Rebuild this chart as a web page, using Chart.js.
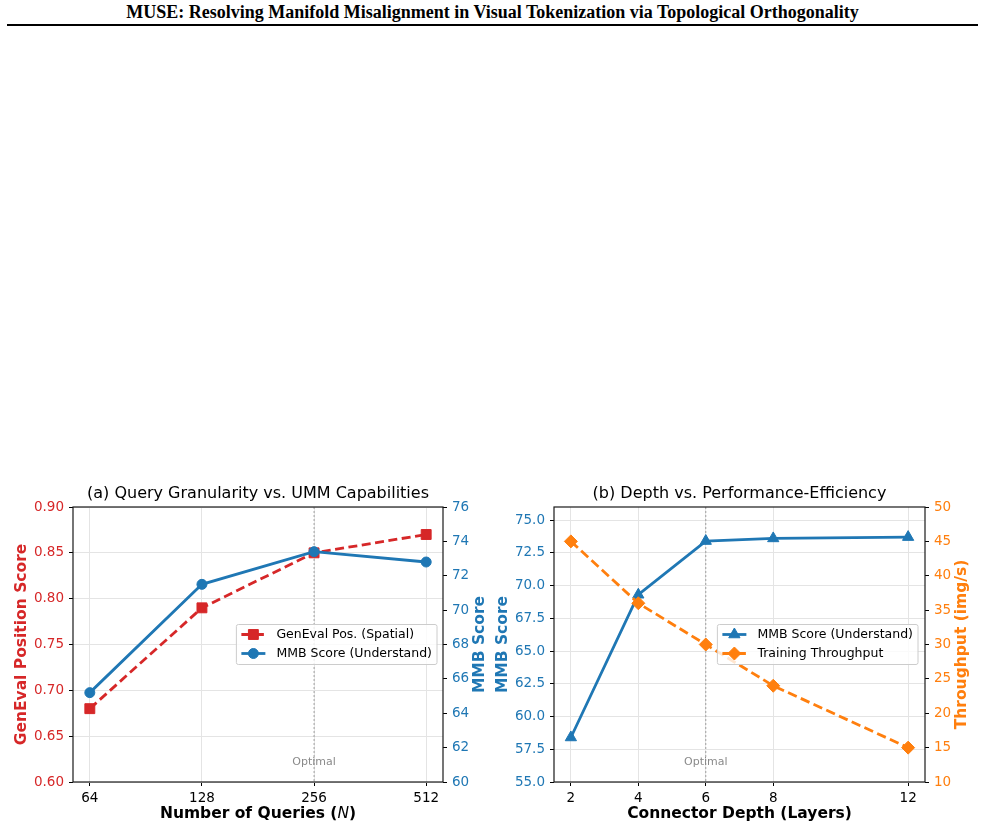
<!DOCTYPE html>
<html>
<head>
<meta charset="utf-8">
<script src="https://cdn.jsdelivr.net/npm/chart.js@4.4.1/dist/chart.umd.min.js"></script>
<style>
  body { margin: 0; width: 985px; height: 830px; background: #fff; position: relative; overflow: hidden; }
  #hdr { position: absolute; left: 0; top: 2px; width: 985px; text-align: center; line-height: 21px;
         font-family: "Liberation Serif", "Times New Roman", serif; font-weight: bold; font-size: 18px; color: #000; }
  #rule { position: absolute; left: 7px; top: 24px; width: 971px; height: 2px; background: #000; }
  .box { position: absolute; top: 478px; height: 352px; }
</style>
</head>
<body>
<div id="hdr">MUSE: Resolving Manifold Misalignment in Visual Tokenization via Topological Orthogonality</div>
<div id="rule"></div>
<div class="box" style="left:0;width:490px"><canvas id="chartA" width="490" height="352"></canvas></div>
<div class="box" style="left:490px;width:495px"><canvas id="chartB" width="495" height="352"></canvas></div>
<script>
// (a) query granularity
const queryLabels = ['64', '128', '256', '512'];
const genevalPos = [0.68, 0.79, 0.85, 0.87];
const mmbByQueries = [65.2, 71.5, 73.4, 72.8];
const genevalTicks = [0.60, 0.65, 0.70, 0.75, 0.80, 0.85, 0.90];
const mmbTicksA = [60, 62, 64, 66, 68, 70, 72, 74, 76];
const optimalQuery = 2; // index of 256

// (b) connector depth
const depthLayers = [2, 4, 6, 8, 12];
const mmbByDepth = [58.4, 69.3, 73.4, 73.6, 73.7];
const throughput = [45, 36, 30, 24, 15];
const mmbTicksB = [55, 57.5, 60, 62.5, 65, 67.5, 70, 72.5, 75];
const throughputTicks = [10, 15, 20, 25, 30, 35, 40, 45, 50];
const optimalDepth = 6;

const FONT = "'DejaVu Sans', sans-serif";
const RED = '#d62728', BLUE = '#1f77b4', ORANGE = '#ff7f0e';

function drawLegend(chart, o) {
  const { ctx, chartArea: a } = chart;
  const items = chart.data.datasets;
  ctx.save();
  ctx.font = `12.5px ${FONT}`;
  const tw = Math.max(...items.map(d => ctx.measureText(d.label).width));
  const pad = 5, handle = 24, gap = 11, row = 19;
  const w = pad + handle + gap + tw + pad;
  const h = 40;
  const right = a.right - o.legendGap;
  const left = right - w;
  const top = (a.top + a.bottom) / 2 - h / 2;
  ctx.beginPath();
  ctx.roundRect(left, top, w, h, 2);
  ctx.fillStyle = 'rgba(255,255,255,0.8)';
  ctx.fill();
  ctx.strokeStyle = '#cccccc';
  ctx.lineWidth = 1;
  ctx.stroke();
  items.forEach((d, i) => {
    const y = top + 10 + i * row;
    ctx.strokeStyle = d.borderColor;
    ctx.lineWidth = d.borderWidth;
    ctx.setLineDash(d.borderDash || []);
    ctx.beginPath();
    ctx.moveTo(left + pad, y);
    ctx.lineTo(left + pad + handle, y);
    ctx.stroke();
    ctx.setLineDash([]);
    ctx.fillStyle = d.backgroundColor;
    ctx.lineWidth = d.pointBorderWidth;
    Chart.helpers.drawPoint(ctx, { pointStyle: d.pointStyle, rotation: 0, radius: d.pointRadius, borderWidth: d.pointBorderWidth },
      left + pad + handle / 2, y);
    ctx.fillStyle = '#000';
    ctx.textAlign = 'left';
    ctx.textBaseline = 'middle';
    ctx.fillText(d.label, left + pad + handle + gap, y);
  });
  ctx.restore();
}

function vText(ctx, text, x, y, color) {
  ctx.save();
  ctx.translate(x, y);
  ctx.rotate(-Math.PI / 2);
  ctx.fillStyle = color;
  ctx.fillText(text, 0, 0);
  ctx.restore();
}

const annotate = {
  id: 'annotate',
  beforeDatasetsDraw(chart, args, o) {
    const { ctx, chartArea: a, scales } = chart;
    const x = scales.x.getPixelForValue(o.optimalX);
    ctx.save();
    ctx.strokeStyle = 'rgba(128,128,128,0.7)';
    ctx.lineWidth = 1;
    ctx.setLineDash([2, 2]);
    ctx.beginPath();
    ctx.moveTo(x, a.top);
    ctx.lineTo(x, a.bottom);
    ctx.stroke();
    ctx.fillStyle = '#8a8a8a';
    ctx.font = `11px ${FONT}`;
    ctx.textAlign = 'center';
    ctx.textBaseline = 'middle';
    ctx.fillText('Optimal', x, a.bottom - 20);
    ctx.restore();
  },
  afterDatasetsDraw(chart, args, o) {
    const { ctx, chartArea: a } = chart;
    ctx.save();
    ctx.strokeStyle = '#1a1a1a';
    ctx.lineWidth = 1.2;
    ctx.strokeRect(a.left, a.top, a.right - a.left, a.bottom - a.top);
    ctx.restore();
    drawLegend(chart, o);
  },
  afterDraw(chart, args, o) {
    const { ctx, chartArea: a } = chart;
    const cx = (a.left + a.right) / 2, cy = (a.top + a.bottom) / 2;
    ctx.save();
    ctx.textAlign = 'center';
    ctx.textBaseline = 'middle';
    ctx.fillStyle = '#000';
    ctx.font = `16px ${FONT}`;
    ctx.fillText(o.title, cx, o.titleY);
    ctx.font = `bold 15.5px ${FONT}`;
    vText(ctx, o.leftTitle, o.leftTitleX, cy, o.leftColor);
    vText(ctx, o.rightTitle, o.rightTitleX, cy, o.rightColor);
    // x title, possibly with an italic part
    const parts = o.xTitle;
    const fonts = parts.map(p => p.italic ? `italic 15.5px ${FONT}` : `bold 15.5px ${FONT}`);
    const widths = parts.map((p, i) => { ctx.font = fonts[i]; return ctx.measureText(p.text).width; });
    let x = cx - widths.reduce((s, v) => s + v, 0) / 2;
    ctx.textAlign = 'left';
    ctx.fillStyle = '#000';
    parts.forEach((p, i) => {
      ctx.font = fonts[i];
      ctx.fillText(p.text, x, o.xTitleY);
      x += widths[i];
    });
    ctx.restore();
  }
};

function yAxis(pos, min, max, ticks, color, width, grid, fmt) {
  return {
    type: 'linear', position: pos, min: min, max: max,
    afterBuildTicks: s => { s.ticks = ticks.map(v => ({ value: v })); },
    afterFit: s => { s.width = width; },
    border: { display: false },
    grid: { display: true, drawOnChartArea: grid, color: '#e4e4e4', lineWidth: 1,
            tickLength: 4, tickColor: '#000', tickWidth: 1 },
    ticks: { color: color, padding: 5, font: { family: FONT, size: 13.5 }, callback: fmt }
  };
}

function xAxis(min, max, ticks, fmt) {
  return {
    type: 'linear', position: 'bottom', min: min, max: max,
    afterBuildTicks: s => { s.ticks = ticks.map(v => ({ value: v })); },
    afterFit: s => { s.height = 48; },
    border: { display: false },
    grid: { color: '#e4e4e4', lineWidth: 1, tickLength: 4, tickColor: '#000', tickWidth: 1 },
    ticks: { color: '#000', padding: 4, maxRotation: 0, font: { family: FONT, size: 13.5 }, callback: fmt }
  };
}

const common = {
  responsive: false,
  animation: false,
  layout: { padding: { top: 29, left: 0, right: 0, bottom: 0 } },
  elements: { line: { tension: 0 } }
};

new Chart(document.getElementById('chartA'), {
  type: 'line',
  data: {
    datasets: [
      {
        label: 'GenEval Pos. (Spatial)',
        data: queryLabels.map((q, i) => ({ x: i, y: genevalPos[i] })),
        yAxisID: 'y', order: 1,
        borderColor: RED, backgroundColor: RED, borderWidth: 2.8, borderDash: [9, 4.5],
        pointStyle: 'rect', pointRadius: 7, pointBorderWidth: 1, pointBorderColor: RED, pointBackgroundColor: RED
      },
      {
        label: 'MMB Score (Understand)',
        data: queryLabels.map((q, i) => ({ x: i, y: mmbByQueries[i] })),
        yAxisID: 'y1', order: 0,
        borderColor: BLUE, backgroundColor: BLUE, borderWidth: 2.8,
        pointStyle: 'circle', pointRadius: 5, pointBorderWidth: 1, pointBorderColor: BLUE, pointBackgroundColor: BLUE
      }
    ]
  },
  options: {
    ...common,
    scales: {
      x: xAxis(-0.15, 3.15, queryLabels.map((q, i) => i), v => queryLabels[v]),
      y: yAxis('left', 0.6, 0.9, genevalTicks, RED, 73, true, v => v.toFixed(2)),
      y1: yAxis('right', 60, 76, mmbTicksA, BLUE, 47, false, v => String(v))
    },
    plugins: {
      legend: { display: false },
      tooltip: { enabled: false },
      annotate: {
        optimalX: optimalQuery, legendGap: 6,
        title: '(a) Query Granularity vs. UMM Capabilities', titleY: 16,
        leftTitle: 'GenEval Position Score', leftTitleX: 22, leftColor: RED,
        rightTitle: 'MMB Score', rightTitleX: 480, rightColor: BLUE,
        xTitle: [{ text: 'Number of Queries (' }, { text: 'N', italic: true }, { text: ')' }], xTitleY: 336
      }
    }
  },
  plugins: [annotate]
});

new Chart(document.getElementById('chartB'), {
  type: 'line',
  data: {
    datasets: [
      {
        label: 'MMB Score (Understand)',
        data: depthLayers.map((d, i) => ({ x: d, y: mmbByDepth[i] })),
        yAxisID: 'y', order: 1,
        borderColor: BLUE, backgroundColor: BLUE, borderWidth: 2.8,
        pointStyle: 'triangle', pointRadius: 6.5, pointBorderWidth: 1, pointBorderColor: BLUE, pointBackgroundColor: BLUE
      },
      {
        label: 'Training Throughput',
        data: depthLayers.map((d, i) => ({ x: d, y: throughput[i] })),
        yAxisID: 'y1', order: 0,
        borderColor: ORANGE, backgroundColor: ORANGE, borderWidth: 2.8, borderDash: [9.5, 4.5],
        pointStyle: 'rectRot', pointRadius: 6.5, pointBorderWidth: 1, pointBorderColor: ORANGE, pointBackgroundColor: ORANGE
      }
    ]
  },
  options: {
    ...common,
    scales: {
      x: xAxis(1.5, 12.5, depthLayers, v => String(v)),
      y: yAxis('left', 55, 76, mmbTicksB, BLUE, 64, true, v => v.toFixed(1)),
      y1: yAxis('right', 10, 50, throughputTicks, ORANGE, 60, false, v => String(v))
    },
    plugins: {
      legend: { display: false },
      tooltip: { enabled: false },
      annotate: {
        optimalX: optimalDepth, legendGap: 7,
        title: '(b) Depth vs. Performance-Efficiency', titleY: 16,
        leftTitle: 'MMB Score', leftTitleX: 13, leftColor: BLUE,
        rightTitle: 'Throughput (img/s)', rightTitleX: 472, rightColor: ORANGE,
        xTitle: [{ text: 'Connector Depth (Layers)' }], xTitleY: 336
      }
    }
  },
  plugins: [annotate]
});
</script>
</body>
</html>
